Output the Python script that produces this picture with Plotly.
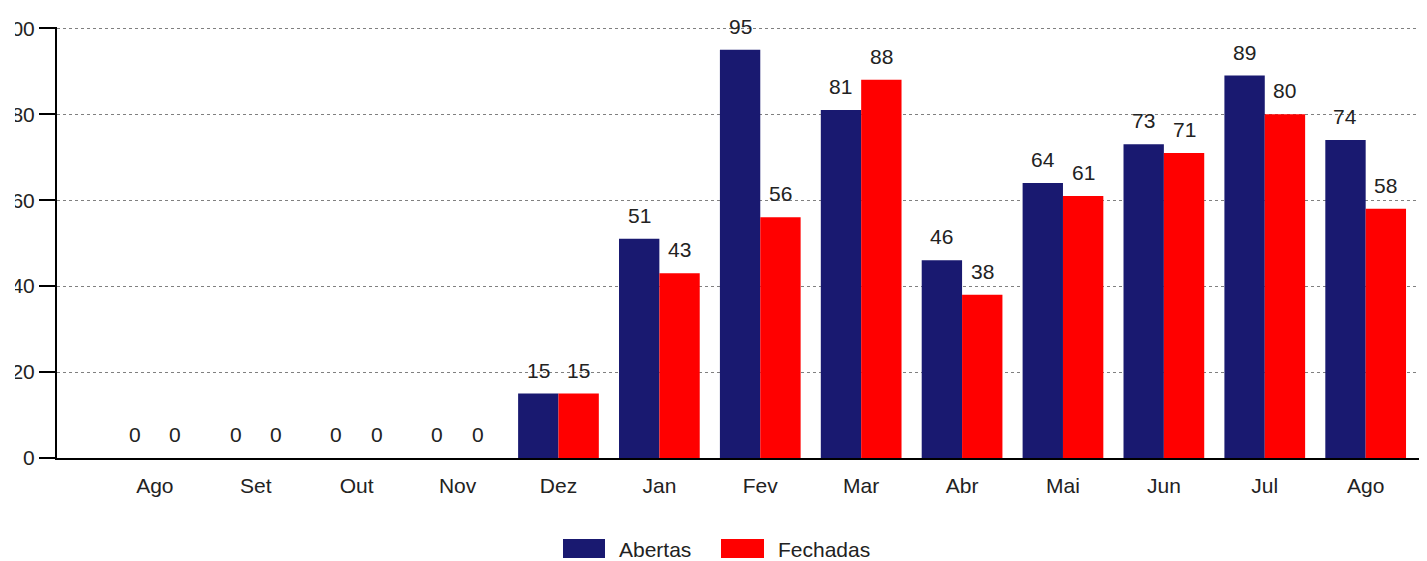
import plotly.graph_objects as go

months = ["Ago", "Set", "Out", "Nov", "Dez", "Jan", "Fev", "Mar", "Abr", "Mai", "Jun", "Jul", "Ago"]
abertas = [0, 0, 0, 0, 15, 51, 95, 81, 46, 64, 73, 89, 74]
fechadas = [0, 0, 0, 0, 15, 43, 56, 88, 38, 61, 71, 80, 58]
series_names = ["Abertas", "Fechadas"]
colors = ["#191970", "#FF0000"]

OFF = 8  # page body margin
W, H = 1427 - OFF, 561 - OFF
ML, MR, MT, MB = 57 - OFF, 0, 27 - OFF, 103
PW, PH = W - ML - MR, H - MT - MB

x = list(range(len(months)))
FONT = "Arial, Liberation Sans, sans-serif"
TXT = "#222222"
FS = 21

fig = go.Figure()
for name, vals, col in zip(series_names, [abertas, fechadas], colors):
    fig.add_trace(go.Bar(x=x, y=vals, name=name, marker=dict(color=col, line=dict(width=0)),
                         showlegend=False))

annotations = []
bargap = 0.2
bw = (1 - bargap) / 2
for k, vals in enumerate([abertas, fechadas]):
    off = -bw / 2 if k == 0 else bw / 2
    for i, v in zip(x, vals):
        annotations.append(dict(x=i + off, y=v, xref="x", yref="y", text=str(v), showarrow=False,
                                yanchor="bottom", xanchor="center", yshift=10,
                                font=dict(family=FONT, size=FS, color=TXT)))

# page pixel -> paper coordinates
def px_x(p):
    return (p - OFF - ML) / PW

def px_y(p):
    return (H - MB - (p - OFF)) / PH

shapes = []
legend_items = [(563, 605, 617), (721, 764, 776)]
for (bx0, bx1, tx), name, col in zip(legend_items, series_names, colors):
    shapes.append(dict(type="rect", xref="paper", yref="paper", x0=px_x(bx0), x1=px_x(bx1),
                       y0=px_y(558), y1=px_y(539), fillcolor=col, line=dict(width=0)))
    annotations.append(dict(x=px_x(tx), y=px_y(549), xref="paper", yref="paper", text=name,
                            showarrow=False, xanchor="left", yanchor="middle",
                            font=dict(family=FONT, size=FS, color=TXT)))

# crop mask mimicking the reference's clipped left edge
shapes.append(dict(type="rect", xref="paper", yref="paper", x0=px_x(-5), x1=px_x(15),
                   y0=-0.1, y1=1.1, fillcolor="white", line=dict(width=0), layer="above"))

x0 = -0.97
x1 = x0 + PW / 100.9
fig.update_layout(
    width=W, height=H,
    margin=dict(l=ML, r=MR, t=MT, b=MB, pad=0, autoexpand=False),
    paper_bgcolor="white", plot_bgcolor="white",
    barmode="group", bargap=bargap, bargroupgap=0,
    font=dict(family=FONT, size=FS, color=TXT),
    xaxis=dict(range=[x0, x1], tickmode="array", tickvals=x, ticktext=months, automargin=False,
               showgrid=False, zeroline=False, showline=True, linecolor="black", linewidth=2,
               ticks="", ticklabelstandoff=8, tickfont=dict(family=FONT, size=FS, color=TXT)),
    yaxis=dict(range=[0, 100.3], tickmode="array", tickvals=[0, 20, 40, 60, 80, 100],
               automargin=False,
               showgrid=True, gridcolor="#808080", griddash="dot", gridwidth=1,
               zeroline=False, showline=True, linecolor="black", linewidth=2,
               ticks="outside", ticklen=16, tickwidth=2, tickcolor="black",
               ticklabelstandoff=0,
               tickfont=dict(family=FONT, size=FS, color=TXT)),
    annotations=annotations, shapes=shapes,
)

fig.write_html("out.html")
